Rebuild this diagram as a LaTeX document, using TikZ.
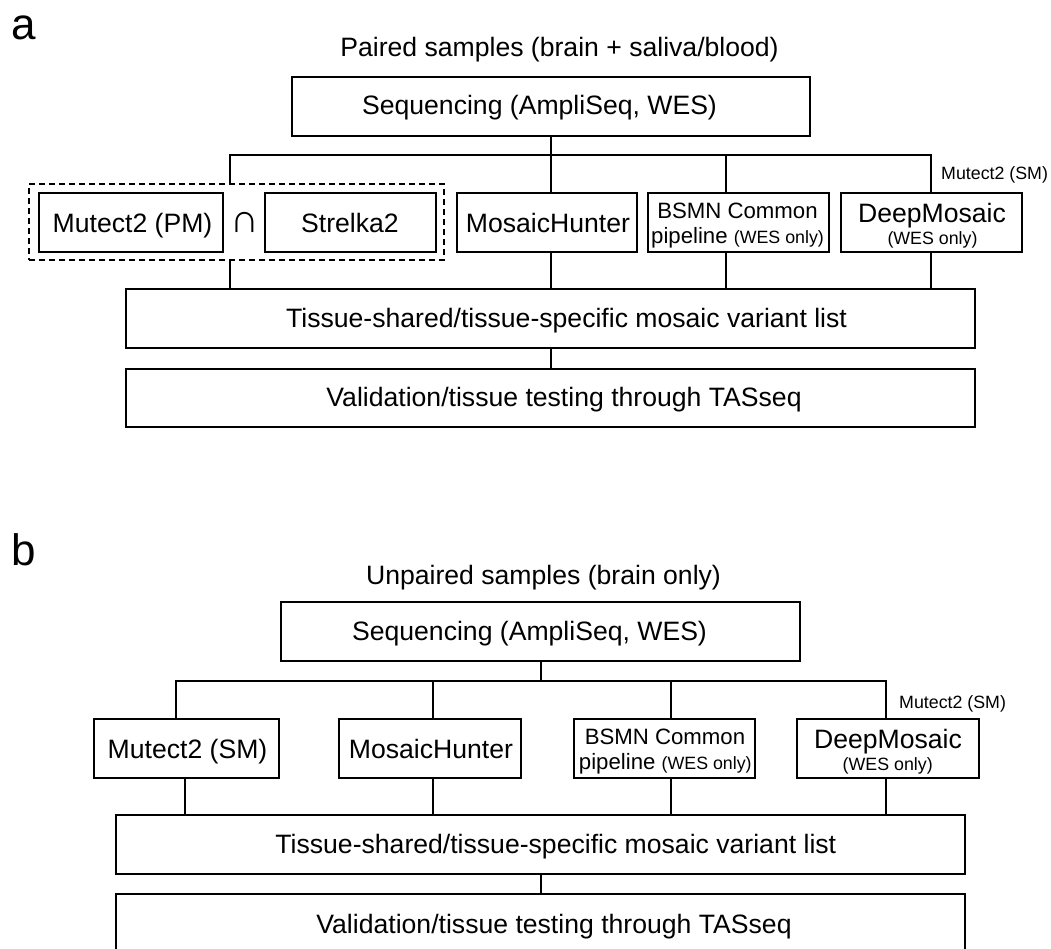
\documentclass[tikz,border=0pt]{standalone}
\usepackage{fontspec}
\setmainfont{Liberation Sans}
\newcommand{\bigf}{\fontsize{26.6}{30}\selectfont}
\newcommand{\midf}{\fontsize{22.2}{26}\selectfont}
\newcommand{\smallf}{\fontsize{17.8}{20}\selectfont}
\newcommand{\panelf}{\fontsize{44}{48}\selectfont}
\newcommand{\capf}{\fontsize{40}{44}\selectfont}
\begin{document}
\begin{tikzpicture}[x=1pt,y=-1pt,
  box/.style={draw=black, line width=1.8pt, inner sep=0pt, outer sep=0pt, rectangle},
  dashbox/.style={draw=black, line width=1.8pt, dash pattern=on 6pt off 4pt, inner sep=0pt, outer sep=0pt, rectangle},
  conn/.style={draw=black, line width=1.7pt},
  txt/.style={anchor=base, inner sep=0pt, outer sep=0pt, font=\bigf},
  mtxt/.style={anchor=base, inner sep=0pt, outer sep=0pt, font=\midf},
  stxt/.style={anchor=base, inner sep=0pt, outer sep=0pt, font=\smallf},
  panel/.style={anchor=base west, inner sep=0pt, outer sep=0pt, font=\panelf}]
\clip (0,0) rectangle (1051,948);
\fill[white] (0,0) rectangle (1051,948);

% ---------------- panel a ----------------
\node[panel] (pa) at (11,39) {a};
\node[txt] (pairedT) at (559.5,56) {Paired samples (brain + saliva/blood)};

\node[box, minimum width=518pt, minimum height=59pt] (seqA) at (551,106.5) {};
\node[txt] (seqAT) at (539.5,114) {Sequencing (AmpliSeq, WES)};

\node[dashbox, minimum width=415pt, minimum height=76pt] (dashA) at (236.5,222) {};
\node[box, minimum width=184pt, minimum height=59pt] (mutPM) at (131,222.5) {};
\node[box, minimum width=171pt, minimum height=59pt] (strA) at (350.5,222.5) {};
\node[box, minimum width=180pt, minimum height=59pt] (mhA) at (547,222.5) {};
\node[box, minimum width=181pt, minimum height=59pt] (bsmnA) at (738.5,222.5) {};
\node[box, minimum width=181pt, minimum height=59pt] (dmA) at (931.5,222.5) {};
\node[box, minimum width=849pt, minimum height=59pt] (tisA) at (550.5,318.5) {};
\node[box, minimum width=849pt, minimum height=58pt] (valA) at (550.5,398) {};

\node[txt] (mutPMT) at (132.5,232.5) {Mutect2 (PM)};
\node[txt, font=\capf] (capT) at (244.5,232.5) {∩};
\node[txt] (strAT) at (350,232) {Strelka2};
\node[txt] (mhAT) at (548,232) {MosaicHunter};
\node[mtxt] (bsmnAT1) at (737.5,218) {BSMN Common};
\node[mtxt] (bsmnAT2) at (737.5,243.3) {pipeline {\smallf(WES only)}};
\node[txt] (dmAT1) at (932,222.3) {DeepMosaic};
\node[stxt] (dmAT2) at (932.5,244) {(WES only)};
\node[stxt, anchor=base east] (smA) at (1048,179.5) {Mutect2 (SM)};
\node[txt] (tisAT) at (566.5,327.5) {Tissue-shared/tissue-specific mosaic variant list};
\node[txt] (valAT) at (564,406) {Validation/tissue testing through TASseq};

\coordinate (busAL) at (230,155);
\coordinate (busAR) at (931,155);
\coordinate (colA2) at (551,155);
\coordinate (colA3) at (726,155);
\draw[conn] (busAL |- dashA.north) -- (busAL) -- (busAR) -- (busAR |- dmA.north);
\draw[conn] (colA2 |- seqA.south) -- (colA2 |- mhA.north);
\draw[conn] (colA3) -- (colA3 |- bsmnA.north);
\draw[conn] (busAL |- dashA.south) -- (busAL |- tisA.north);
\draw[conn] (colA2 |- mhA.south) -- (colA2 |- tisA.north);
\draw[conn] (colA3 |- bsmnA.south) -- (colA3 |- tisA.north);
\draw[conn] (busAR |- dmA.south) -- (busAR |- tisA.north);
\draw[conn] (colA2 |- tisA.south) -- (colA2 |- valA.north);

% ---------------- panel b ----------------
\node[panel] (pb) at (11,565) {b};
\node[txt] (unpT) at (543.5,584.5) {Unpaired samples (brain only)};

\node[box, minimum width=519pt, minimum height=59pt] (seqB) at (540.5,631.5) {};
\node[txt] (seqBT) at (529.5,640) {Sequencing (AmpliSeq, WES)};

\node[box, minimum width=185pt, minimum height=59pt] (mutSM) at (186.5,748.5) {};
\node[box, minimum width=182pt, minimum height=59pt] (mhB) at (430,748.5) {};
\node[box, minimum width=181pt, minimum height=59pt] (bsmnB) at (664.5,748.5) {};
\node[box, minimum width=182pt, minimum height=59pt] (dmB) at (888,748.5) {};
\node[box, minimum width=849pt, minimum height=59pt] (tisB) at (540.5,844.5) {};
\node[box, minimum width=849pt, minimum height=110pt] (valB) at (540.5,949) {};

\node[txt] (mutSMT) at (187.5,758) {Mutect2 (SM)};
\node[txt] (mhBT) at (431,758) {MosaicHunter};
\node[mtxt] (bsmnBT1) at (665,744) {BSMN Common};
\node[mtxt] (bsmnBT2) at (665.3,769.3) {pipeline {\smallf(WES only)}};
\node[txt] (dmBT1) at (888,748.3) {DeepMosaic};
\node[stxt] (dmBT2) at (887.7,770) {(WES only)};
\node[stxt, anchor=base east] (smB) at (1006,708.3) {Mutect2 (SM)};
\node[txt] (tisBT) at (555.8,853.5) {Tissue-shared/tissue-specific mosaic variant list};
\node[txt] (valBT) at (554,933) {Validation/tissue testing through TASseq};

\coordinate (busBL) at (176,681);
\coordinate (busBR) at (886,681);
\coordinate (colB1) at (541,681);
\coordinate (colB2) at (433,681);
\coordinate (colB3) at (671,681);
\coordinate (lowB1) at (185,681);
\draw[conn] (busBL |- mutSM.north) -- (busBL) -- (busBR) -- (busBR |- dmB.north);
\draw[conn] (colB1 |- seqB.south) -- (colB1);
\draw[conn] (colB2) -- (colB2 |- mhB.north);
\draw[conn] (colB3) -- (colB3 |- bsmnB.north);
\draw[conn] (lowB1 |- mutSM.south) -- (lowB1 |- tisB.north);
\draw[conn] (colB2 |- mhB.south) -- (colB2 |- tisB.north);
\draw[conn] (colB3 |- bsmnB.south) -- (colB3 |- tisB.north);
\draw[conn] (busBR |- dmB.south) -- (busBR |- tisB.north);
\draw[conn] (colB1 |- tisB.south) -- (colB1 |- valB.north);
\end{tikzpicture}
\end{document}
